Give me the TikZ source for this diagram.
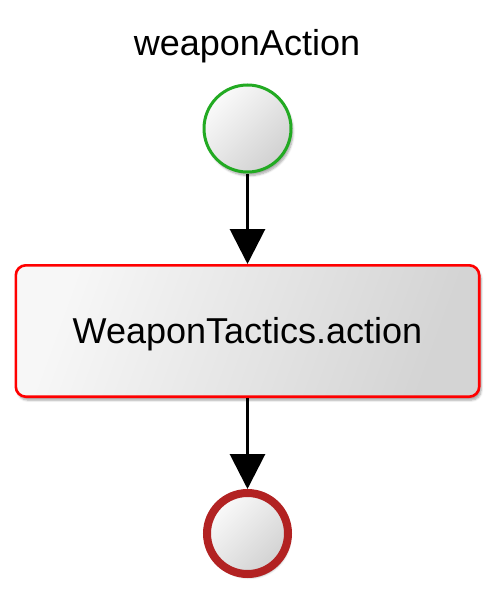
\documentclass[tikz,border=0pt]{standalone}
\usepackage{fontspec}
\setmainfont{Liberation Sans}
\usetikzlibrary{shadows.blur,arrows.meta}
\definecolor{startgreen}{HTML}{22AA22}
\definecolor{endred}{HTML}{B22222}
\tikzset{
  gradfill/.style={top color=black!2, bottom color=black!18, shading angle=45},
  boxfill/.style={top color=black!3, bottom color=black!17, shading angle=70},
  sh/.style={blur shadow={shadow xshift=2pt, shadow yshift=-3.5pt, shadow blur steps=6, shadow opacity=35}},
  startev/.style={circle, draw=startgreen, line width=3pt, minimum size=87pt, inner sep=0pt, gradfill, sh},
  endev/.style={circle, draw=endred, line width=8pt, minimum size=81pt, inner sep=0pt, gradfill, sh},
  taskbox/.style={rectangle, rounded corners=10pt, draw=red, line width=2.6pt, minimum width=463.4pt, minimum height=131.4pt, boxfill, sh, font=\fontsize{36}{40}\selectfont},
  flow/.style={line width=3pt, -{Triangle[length=35pt,width=35pt]}},
}
\begin{document}
\begin{tikzpicture}[x=1pt,y=-1pt]
\useasboundingbox (0,0) rectangle (495,594);
\node[font=\fontsize{36}{40}\selectfont] (title) at (247,46) {weaponAction};
\node[startev] (start) at (247.5,128.5) {};
\node[taskbox, text depth=2pt] (task) at (247.5,331) {WeaponTactics.action};
\node[endev] (end) at (247.5,533.5) {};
\draw[flow] (start) -- (task);
\draw[flow] (task) -- (end);
\end{tikzpicture}
\end{document}
